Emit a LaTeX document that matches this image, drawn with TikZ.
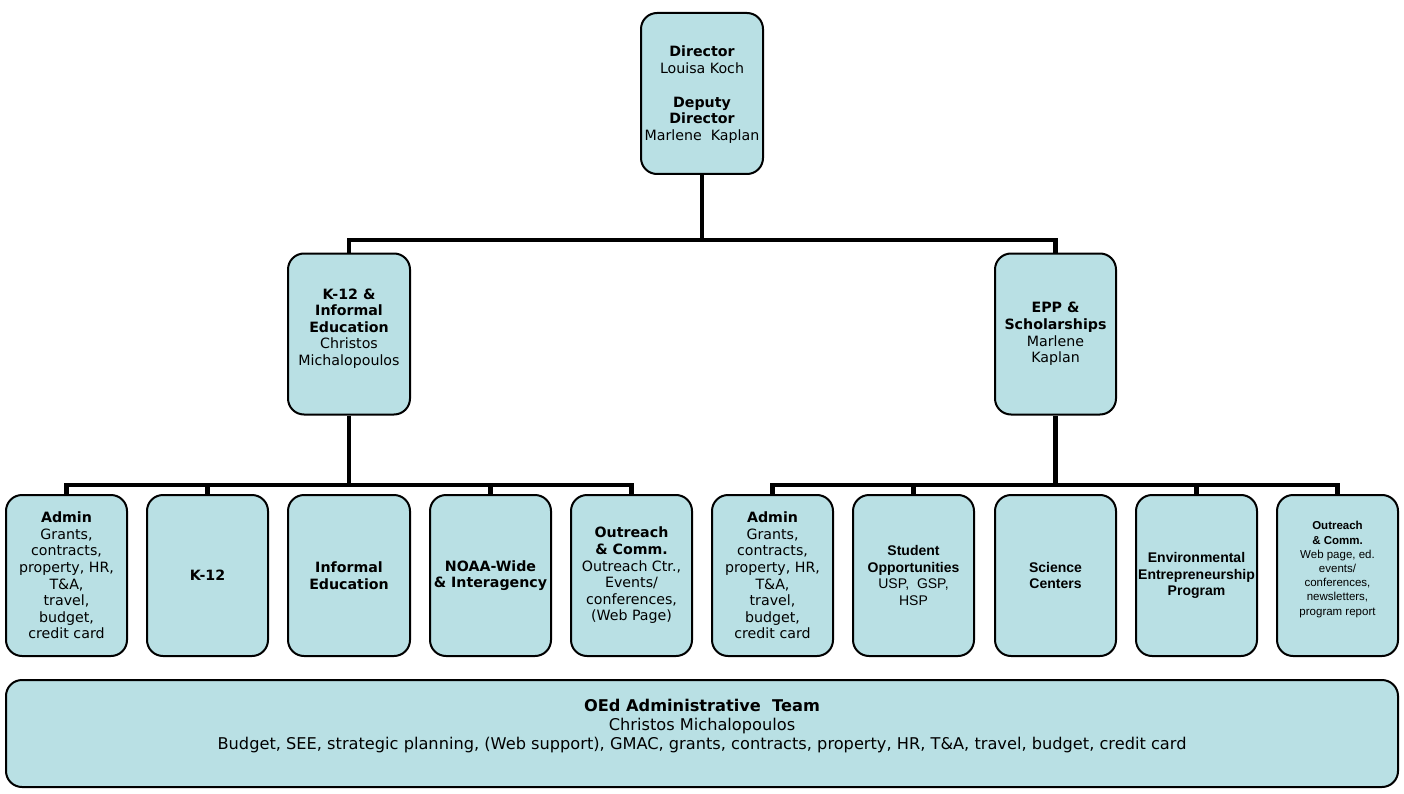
\documentclass[tikz,border=0pt]{standalone}
\usepackage{fontspec}
\setmainfont{DejaVu Sans}
\newfontfamily\arialf{Liberation Sans}
\definecolor{boxfill}{RGB}{185,224,228}
\tikzset{
  orgbox/.style={draw=black, fill=boxfill, line width=2pt, rounded corners=16pt,
    minimum width=121pt, minimum height=161pt, inner sep=0pt, align=center,
    font=\fontsize{14.2}{16.6}\selectfont},
  arialbox/.style={orgbox, font=\arialf\fontsize{14}{16.5}\selectfont},
  smallbox/.style={orgbox, font=\arialf\fontsize{11.5}{14.2}\selectfont},
  teambox/.style={orgbox, minimum width=1392pt, minimum height=107pt,
    font=\fontsize{16.2}{19}\selectfont},
  conn/.style={line width=4.5pt, draw=black}
}
\begin{document}
\begin{tikzpicture}[x=1pt,y=-1pt]
\useasboundingbox (0,0) rectangle (1404,794);
% top
\node[orgbox, minimum width=122pt] (dir) at (702,93.5)
  {\rule{0pt}{13pt}\textbf{Director}\\Louisa Koch\\[17.4pt]\textbf{Deputy}\\\textbf{Director}\\Marlene\ \ Kaplan};
% second level
\node[orgbox, minimum width=122pt] (k12) at (349,334)
  {\textbf{K-12 \&}\\\textbf{Informal}\\\textbf{Education}\\Christos\\Michalopoulos\\[-2.6pt]\mbox{}};
\node[orgbox] (epp) at (1055.5,334)
  {\textbf{EPP \&}\\\textbf{Scholarships}\\Marlene\\Kaplan};
% bottom row left
\node[orgbox] (a1) at (66.5,575.5)
  {\textbf{Admin}\\Grants,\\contracts,\\property, HR,\\T\&A,\\travel,\\budget,\\credit card};
\node[orgbox] (a2) at (207.5,575.5) {\textbf{K-12}};
\node[orgbox, minimum width=122pt] (a3) at (349,575.5) {\textbf{Informal}\\\textbf{Education}};
\node[orgbox] (a4) at (490.5,575.5) {\textbf{NOAA-Wide}\\\textbf{\& Interagency}};
\node[orgbox] (a5) at (631.5,575.5)
  {\textbf{Outreach}\\\textbf{\& Comm.}\\Outreach Ctr.,\\Events/\\conferences,\\(Web Page)};
% bottom row right
\node[orgbox] (b1) at (772.5,575.5)
  {\textbf{Admin}\\Grants,\\contracts,\\property, HR,\\T\&A,\\travel,\\budget,\\credit card};
\node[arialbox] (b2) at (913.5,575.5)
  {\textbf{Student}\\\textbf{Opportunities}\\USP,\ \ GSP,\\HSP};
\node[arialbox] (b3) at (1055.5,575.5) {\textbf{Science}\\\textbf{Centers}};
\node[arialbox] (b4) at (1196.5,575.5)
  {\textbf{Environmental}\\\textbf{Entrepreneurship}\\\textbf{Program}};
\node[smallbox] (b5) at (1337.5,575.5)
  {\textbf{Outreach}\\\textbf{\& Comm.}\\Web page, ed.\\events/\\conferences,\\newsletters,\\program report\\[0pt]\mbox{}};
% team
\node[teambox] (team) at (702,733.5)
  {\textbf{OEd Administrative\ \ Team}\\Christos Michalopoulos\\Budget,\ SEE,\ strategic planning,\ (Web support),\ GMAC,\ grants,\ contracts,\ property,\ HR,\ T\&A,\ travel,\ budget,\ credit card\\[-1pt]\mbox{}};
% connectors
\coordinate (j0) at (702,240);
\coordinate (jl) at (349,485);
\coordinate (jr) at (1055.5,485);
\draw[conn] (dir.south) -- (j0);
\draw[conn] (k12.north) |- (j0) -| (epp.north);
\draw[conn] (k12.south) -- (jl);
\draw[conn] (a1.north) |- (jl) -| (a5.north);
\draw[conn] (a2.north) -- (a2.north |- jl);
\draw[conn] (a4.north) -- (a4.north |- jl);
\draw[conn] (epp.south) -- (jr);
\draw[conn] (b1.north) |- (jr) -| (b5.north);
\draw[conn] (b2.north) -- (b2.north |- jr);
\draw[conn] (b4.north) -- (b4.north |- jr);
\end{tikzpicture}
\end{document}
